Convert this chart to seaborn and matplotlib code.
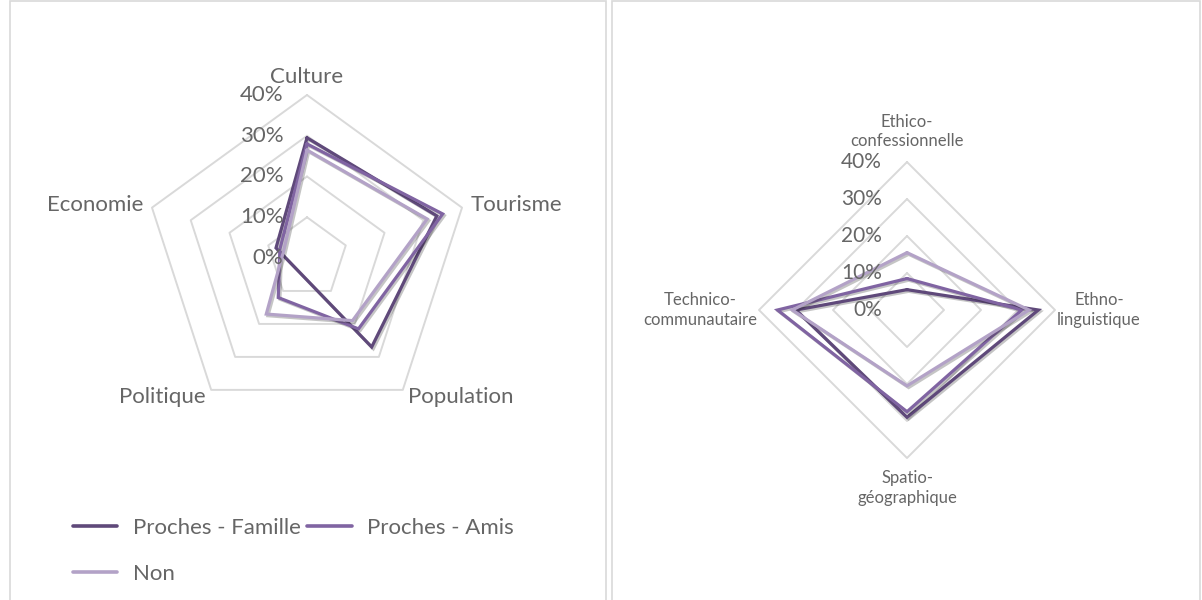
import numpy as np
import pandas as pd
import seaborn as sns
import matplotlib.pyplot as plt
import matplotlib.patheffects as pe
from matplotlib.lines import Line2D
from matplotlib.patches import Rectangle

# Données (en %)
series = ["Proches - Famille", "Proches - Amis", "Non"]
couleurs = ["#5f497a", "#8064a2", "#b3a2c7"]
graduations = [0, 10, 20, 30, 40]

cat_gauche = ["Culture", "Tourisme", "Population", "Politique", "Economie"]
famille_g = [29.5, 33.5, 27.0, np.nan, 8.0]
amis_g = [28.0, 35.0, 21.5, 12.0, 7.0]
non_g = [26.5, 31.0, 19.0, 17.0, 6.0]

cat_droite = ["Ethico-\nconfessionnelle", "Ethno-\nlinguistique",
              "Spatio-\ngéographique", "Technico-\ncommunautaire"]
famille_d = [5.5, 35.5, 29.0, 30.0]
amis_d = [8.5, 31.0, 27.5, 35.0]
non_d = [15.5, 33.0, 20.5, 31.0]

W, H = 1202, 600
GRIS_TXT = "#666666"
GRIS_GRILLE = "#d9d9d9"

sns.set_theme(style="white")
plt.rcParams['font.family'] = ['Lato', 'DejaVu Sans']

fig = plt.figure(figsize=(W / 100, H / 100), dpi=100)

# cadres des deux graphiques
for x0, x1 in [(10, 606), (612, 1200)]:
    fig.add_artist(Rectangle((x0 / W, -0.01), (x1 - x0) / W, 1 - 1 / H + 0.01,
                             transform=fig.transFigure, fill=False,
                             ec=GRIS_GRILLE, lw=1.2))


def radar(cx, cy, echelle, categories, valeurs, fs_cat, fs_tick,
          pad_h, pad_v, pad_tick):
    h = 260
    ax = fig.add_axes([(cx - h) / W, 1 - (cy + h) / H, 2 * h / W, 2 * h / H])
    lim = h / echelle
    n = len(categories)
    angles = np.pi / 2 - 2 * np.pi * np.arange(n) / n

    # grille polygonale
    for g in graduations[1:]:
        gx = np.append(g * np.cos(angles), g * np.cos(angles[0]))
        gy = np.append(g * np.sin(angles), g * np.sin(angles[0]))
        ax.plot(gx, gy, color=GRIS_GRILLE, lw=1.4, zorder=1)

    # séries
    lignes = []
    for nom, vals in zip(series, valeurs):
        v = np.array(vals, dtype=float)
        ok = ~np.isnan(v)
        x = v[ok] * np.cos(angles[ok])
        y = v[ok] * np.sin(angles[ok])
        x = np.append(x, x[0])
        y = np.append(y, y[0])
        lignes.append(pd.DataFrame({"serie": nom, "x": x, "y": y}))
    df = pd.concat(lignes, ignore_index=True)
    sns.lineplot(data=df, x="x", y="y", hue="serie", hue_order=series,
                 palette=couleurs, sort=False, estimator=None, lw=2.3,
                 legend=False, ax=ax, zorder=3)
    for ln in ax.get_lines()[len(graduations) - 1:]:
        ln.set_path_effects([pe.SimpleLineShadow(offset=(1.2, -1.2), alpha=0.25),
                             pe.Normal()])
        ln.set_solid_joinstyle("miter")

    # étiquettes des graduations
    for g in graduations:
        ax.annotate(f"{g}%", (0, g), xytext=(-pad_tick, 0), textcoords="offset points",
                    ha="right", va="center", fontsize=fs_tick, color=GRIS_TXT)

    # étiquettes des catégories
    for cat, a in zip(categories, angles):
        c, s = np.cos(a), np.sin(a)
        if abs(c) < 0.1:
            ha = "center"
            va = "bottom" if s > 0 else "top"
            off = (0, pad_v * np.sign(s))
        else:
            ha = "left" if c > 0 else "right"
            va = "center"
            off = (pad_h * c, pad_h * s)
        ax.annotate(cat, (40 * c, 40 * s), xytext=off,
                    textcoords="offset points", ha=ha, va=va, fontsize=fs_cat,
                    color=GRIS_TXT, multialignment="center", linespacing=1.3)

    ax.set_xlim(-lim, lim)
    ax.set_ylim(-lim, lim)
    ax.axis("off")
    return ax


radar(307, 258, 163 / 40, cat_gauche, [famille_g, amis_g, non_g],
      fs_cat=16, fs_tick=16, pad_h=6.5, pad_v=6, pad_tick=17)
radar(907, 310, 148 / 40, cat_droite, [famille_d, amis_d, non_d],
      fs_cat=12, fs_tick=15, pad_h=1.5, pad_v=9, pad_tick=18)

# légende du graphique de gauche
poignees = [Line2D([], [], color=c, lw=2.6) for c in couleurs]
ordre = [0, 2, 1]
fig.legend([poignees[i] for i in ordre], [series[i] for i in ordre],
           loc="upper left", bbox_to_anchor=(73 / W, 1 - 518 / H), ncol=2,
           frameon=False, fontsize=16, labelcolor=GRIS_TXT, borderpad=0,
           borderaxespad=0, handlelength=2.0, handletextpad=0.68,
           columnspacing=0.3, labelspacing=1.15)

fig.savefig("out.png", dpi=100, facecolor="white")
